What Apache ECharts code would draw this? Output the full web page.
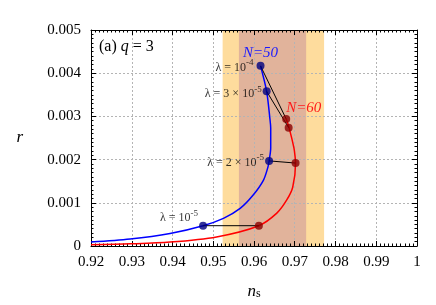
<!DOCTYPE html>
<html>
<head>
<meta charset="utf-8">
<script src="https://cdn.jsdelivr.net/npm/echarts@6/dist/echarts.min.js"></script>
<style>html,body{margin:0;padding:0;background:#fff}#c{width:436px;height:305px}</style>
</head>
<body>
<div id="c"></div>
<script>
// ---- data ----
const xTickLabels = ['0.92','0.93','0.94','0.95','0.96','0.97','0.98','0.99','1'];
const yTickLabels = ['0','0.001','0.002','0.003','0.004','0.005'];
const outerBand = [0.9523, 0.9772];
const innerBand = [0.9563, 0.9728];
const blueNs = [0.92, 0.9296, 0.9394, 0.9475, 0.9525, 0.9566, 0.9598, 0.9623, 0.9634, 0.9637, 0.9641, 0.9641, 0.9639, 0.9631, 0.9616];
const blueR  = [0.00009, 0.00016, 0.00029, 0.00047, 0.00064, 0.00087, 0.00118, 0.00152, 0.00182, 0.00197, 0.00227, 0.00273, 0.00295, 0.00358, 0.00417];
const redNs = [0.92, 0.9296, 0.9394, 0.9508, 0.9612, 0.9656, 0.9680, 0.9695, 0.9702, 0.9701, 0.9698, 0.9686, 0.9679];
const redR  = [0.00003, 0.00005, 0.00009, 0.00021, 0.00047, 0.00076, 0.00106, 0.00136, 0.00192, 0.00205, 0.00227, 0.00274, 0.00294];
const lambdaSup = ['-4', '-5', '-5', '-5'];
const lambdaPre = ['λ = 10', 'λ = 3 × 10', 'λ = 2 × 10', 'λ = 10'];
const blueMarkNs = [0.9616, 0.9631, 0.9637, 0.9475];
const blueMarkR  = [0.00417, 0.00358, 0.00197, 0.00047];
const redMarkNs  = [0.9679, 0.9685, 0.9702, 0.9612];
const redMarkR   = [0.00294, 0.00274, 0.00192, 0.00047];
const seriesNames = ['N=50', 'N=60'];

const serif = 'Liberation Serif';
const chart = echarts.init(document.getElementById('c'), null, {renderer: 'canvas'});

const zip = (a, b) => a.map((v, i) => [v, b[i]]);
const lamRich = {
  a: {fontFamily: serif, fontSize: 12, color: '#000', lineHeight: 15, verticalAlign: 'bottom'},
  s: {fontFamily: serif, fontSize: 9, color: '#000', lineHeight: 15, verticalAlign: 'top'}
};
const lamPos = [
  {position: 'left', distance: 3, offset: [0, 0]},
  {position: 'left', distance: 1, offset: [0, 1]},
  {position: 'left', distance: 1, offset: [0, 0]},
  {position: 'left', distance: 1, offset: [0, -9]}
];

const blueMarks = blueMarkNs.map((x, i) => ({
  value: [x, blueMarkR[i]],
  label: Object.assign({show: true, color: '#000', formatter: '{a|' + lambdaPre[i] + '}{s|' + lambdaSup[i] + '}', rich: lamRich}, lamPos[i])
}));
const redMarks = redMarkNs.map((x, i) => ({value: [x, redMarkR[i]]}));

const connectors = blueMarkNs.map((x, i) => ({
  type: 'line', z: 3, silent: true, symbol: 'none',
  lineStyle: {color: '#000', width: 1},
  data: [[x, blueMarkR[i]], [redMarkNs[i], redMarkR[i]]]
}));

const axisCommon = {
  type: 'value',
  axisLine: {show: true, onZero: false, lineStyle: {color: '#000', width: 1}},
  axisTick: {show: true, inside: true, length: 5, lineStyle: {color: '#000'}},
  minorTick: {show: true, splitNumber: 10, length: 2.5, lineStyle: {color: '#000'}},
};

const option = {
  animation: false,
  backgroundColor: '#fff',
  grid: {left: 91, right: 19, top: 30, bottom: 55, containLabel: false},
  title: {
    left: 94, top: 34,
    text: '{a|(a) }{q|q}{a| = 3}',
    textStyle: {fontWeight: 'normal', rich: {
      a: {fontFamily: serif, fontSize: 16, fontWeight: 'normal', color: '#000'},
      q: {fontFamily: serif, fontSize: 16, fontWeight: 'normal', fontStyle: 'italic', color: '#000'}
    }}
  },
  xAxis: [
    Object.assign({}, axisCommon, {
      min: 0.92, max: 1, interval: 0.01, z: 1.5,
      axisLabel: {fontFamily: serif, fontSize: 15, color: '#000', margin: 9,
        formatter: v => xTickLabels[Math.round((v - 0.92) / 0.01)]},
      splitLine: {show: true, lineStyle: {color: '#b4b4b4', type: [2, 2], width: 1}},
      name: '{n|n}{s|s}', nameLocation: 'middle', nameGap: 34,
      nameTextStyle: {rich: {
        n: {fontFamily: serif, fontSize: 17, fontStyle: 'italic', color: '#000', lineHeight: 20, verticalAlign: 'bottom'},
        s: {fontFamily: serif, fontSize: 12, color: '#000', lineHeight: 20, verticalAlign: 'bottom', padding: [0,0,0,0]}
      }}
    }),
    Object.assign({}, axisCommon, {
      position: 'top', min: 0.92, max: 1, interval: 0.01, z: 1.5,
      axisLabel: {show: false}, splitLine: {show: false}
    })
  ],
  yAxis: [
    Object.assign({}, axisCommon, {
      min: 0, max: 0.005, interval: 0.001, z: 1.5,
      axisLabel: {fontFamily: serif, fontSize: 15, color: '#000', margin: 10,
        formatter: v => yTickLabels[Math.round(v / 0.001)]},
      splitLine: {show: true, lineStyle: {color: '#b4b4b4', type: [2, 2], width: 1}},
      name: 'r', nameLocation: 'middle', nameGap: 68, nameRotate: 0,
      nameTextStyle: {fontFamily: serif, fontSize: 17, fontStyle: 'italic', color: '#000'}
    }),
    Object.assign({}, axisCommon, {
      position: 'right', min: 0, max: 0.005, interval: 0.001, z: 1.5,
      axisLabel: {show: false}, splitLine: {show: false}
    })
  ],
  series: [
    {
      type: 'line', z: 1, silent: true, data: [], symbol: 'none',
      markArea: {silent: true, itemStyle: {color: '#FEDC9D', opacity: 1}, z: 1,
        data: [[{xAxis: outerBand[0]}, {xAxis: outerBand[1]}]]}
    },
    {
      type: 'line', z: 1.2, silent: true, data: [], symbol: 'none',
      markArea: {silent: true, itemStyle: {color: '#E1B39B', opacity: 1}, z: 1.2,
        data: [[{xAxis: innerBand[0]}, {xAxis: innerBand[1]}]]}
    },
    {
      name: seriesNames[0], type: 'line', z: 2, symbol: 'none', smooth: 0.3,
      lineStyle: {color: '#0000FF', width: 1.5},
      data: zip(blueNs, blueR)
    },
    {
      name: seriesNames[1], type: 'line', z: 2, symbol: 'none', smooth: 0.3,
      lineStyle: {color: '#FF0000', width: 1.5},
      data: zip(redNs, redR)
    },
    ...connectors,
    {
      type: 'scatter', z: 4, symbolSize: 8,
      itemStyle: {color: '#000080'},
      data: blueMarks,
      markPoint: {
        symbol: 'circle', symbolSize: 0.1,
        label: {show: true, position: 'top', distance: 5, formatter: seriesNames[0],
          fontFamily: serif, fontSize: 15, fontStyle: 'italic', color: '#1a1aff'},
        data: [{coord: [blueMarkNs[0], blueMarkR[0]]}]
      }
    },
    {
      type: 'scatter', z: 4, symbolSize: 8,
      itemStyle: {color: '#8B0000'},
      data: redMarks,
      markPoint: {
        symbol: 'circle', symbolSize: 0.1,
        label: {show: true, position: 'right', distance: 0, offset: [0, -11], formatter: seriesNames[1],
          fontFamily: serif, fontSize: 15, fontStyle: 'italic', color: '#ff1a1a'},
        data: [{coord: [redMarkNs[0], redMarkR[0]]}]
      }
    }
  ]
};
chart.setOption(option);
</script>
</body>
</html>
